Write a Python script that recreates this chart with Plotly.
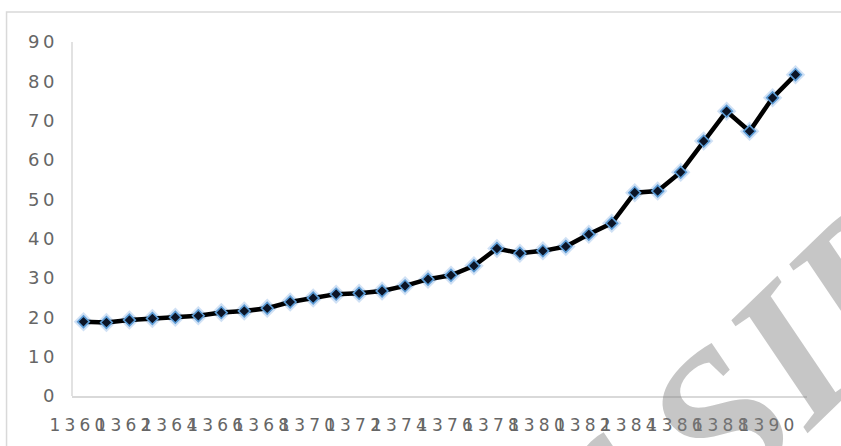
import plotly.graph_objects as go

# Annual series, 1360-1391
years = list(range(1360, 1392))
values = [18.9, 18.7, 19.3, 19.7, 20.0, 20.4, 21.2, 21.6, 22.3, 23.9,
          24.9, 25.9, 26.1, 26.7, 28.0, 29.7, 30.7, 33.1, 37.5, 36.3,
          36.9, 38.0, 41.1, 43.9, 51.7, 52.1, 56.9, 64.8, 72.4, 67.3,
          75.8, 81.7]
x_ticks = list(range(1360, 1391, 2))
y_ticks = list(range(0, 91, 10))

W, H = 841, 446
L, R, T, B = 72, 33.5, 41.7, 49.5
pw = W - L - R
ph = H - T - B

fig = go.Figure()

# soft blue halo under the markers
fig.add_trace(go.Scatter(
    x=years, y=values, mode="markers",
    marker=dict(symbol="diamond", size=15, color="rgba(120,170,225,0.35)",
                line=dict(width=0)),
    hoverinfo="skip", showlegend=False,
))
fig.add_trace(go.Scatter(
    x=years, y=values, mode="lines+markers",
    line=dict(color="#000000", width=4.5),
    marker=dict(symbol="diamond", size=9, color="#0b1426",
                line=dict(color="#5b9bd5", width=1.6)),
    showlegend=False,
))

# outer chart frame (right and bottom edges fall outside the page)
fig.add_shape(type="rect", xref="paper", yref="paper",
              x0=(6.5 - L) / pw, x1=1.3, y0=-0.4, y1=(H - B - 11.7) / ph,
              line=dict(color="#d9d9d9", width=1.5), fillcolor="rgba(0,0,0,0)",
              layer="below")

# vertical axis line at the left edge of the plot area
fig.add_shape(type="line", xref="paper", yref="paper",
              x0=0, x1=0, y0=0, y1=1,
              line=dict(color="#d9d9d9", width=1.5), layer="below")

# diagonal watermark
fig.add_annotation(
    text="of SID", xref="paper", yref="paper",
    x=(722 - L) / pw, y=(H - B - 420) / ph,
    xanchor="center", yanchor="middle", showarrow=False,
    textangle=-44,
    font=dict(family="Liberation Serif", size=205, color="rgba(128,128,128,0.45)",
              weight="bold", style="italic"),
)

fig.update_layout(
    width=W, height=H,
    margin=dict(l=L, r=R, t=T, b=B, pad=0),
    paper_bgcolor="white", plot_bgcolor="white",
    xaxis=dict(
        range=[1359.5, 1391.5], tickvals=x_ticks,
        ticktext=[str(v) for v in x_ticks],
        showgrid=False, zeroline=False,
        showline=True, linecolor="#d9d9d9", linewidth=1.5,
        ticks="", ticklabelshift=-4, ticklabelstandoff=13,
        tickfont=dict(family="DejaVu Sans", size=17, color="#666666"),
    ),
    yaxis=dict(
        range=[0, 90], tickvals=y_ticks,
        anchor="free", position=0,
        showgrid=False, zeroline=False, showline=False,
        ticks="", ticklabelstandoff=14,
        tickfont=dict(family="DejaVu Sans", size=18, color="#666666"),
    ),
)

letter_spacing = (
    "var s=document.createElement('style');"
    "s.textContent='.xtick text{letter-spacing:4.2px}.ytick text{letter-spacing:3.5px}';"
    "document.head.appendChild(s);"
)

fig.write_html("out.html", post_script=letter_spacing)
